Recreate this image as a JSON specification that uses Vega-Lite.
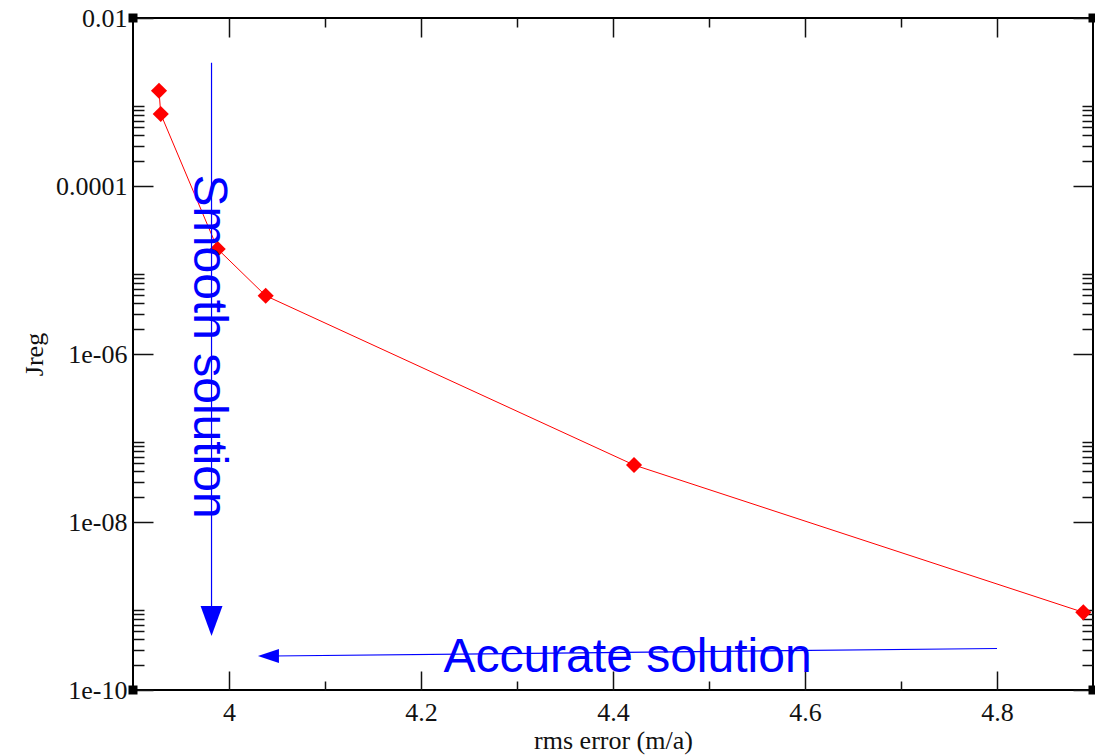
{
  "$schema": "https://vega.github.io/schema/vega-lite/v6.json",
  "width": 960,
  "height": 672,
  "autosize": {"type": "none"},
  "padding": {"left": 133, "top": 18, "right": 2, "bottom": 66},
  "background": "white",
  "config": {
    "view": {"stroke": "#000", "strokeWidth": 2},
    "axis": {
      "domain": false,
      "grid": false,
      "tickColor": "#111",
      "tickWidth": 1.5,
      "labelFont": "Liberation Serif",
      "labelFontSize": 26,
      "labelColor": "#111",
      "titleFont": "Liberation Serif",
      "titleFontSize": 26,
      "titleFontWeight": "normal",
      "titleColor": "#111",
      "labelOverlap": false
    }
  },
  "datasets": {
    "points": [
      {"rms": 3.9271, "jreg": 0.001363},
      {"rms": 3.9289, "jreg": 0.00072},
      {"rms": 3.9882, "jreg": 0.00001778},
      {"rms": 4.0382, "jreg": 0.00000494},
      {"rms": 4.4219, "jreg": 4.77e-8},
      {"rms": 4.8899, "jreg": 8.41e-10}
    ],
    "vline": [
      {"rms": 3.9818, "jreg": 0.00294},
      {"rms": 3.9818, "jreg": 8.0e-10}
    ],
    "hline": [
      {"rms": 4.8, "jreg": 3.12e-10},
      {"rms": 4.045, "jreg": 2.54e-10}
    ],
    "vhead": [{"rms": 3.9818, "jreg": 6.62e-10}],
    "hhead": [{"rms": 4.0411, "jreg": 2.54e-10}],
    "smooth": [{"label": "Smooth solution", "rms": 3.9635, "jreg": 1.227e-6}],
    "accurate": [{"label": "Accurate solution", "rms": 4.4151, "jreg": 1.637e-10}],
    "corners": [
      {"rms": 3.9, "jreg": 0.01},
      {"rms": 4.9, "jreg": 0.01},
      {"rms": 3.9, "jreg": 1e-10},
      {"rms": 4.9, "jreg": 1e-10}
    ]
  },
  "resolve": {"axis": {"x": "independent", "y": "independent"}},
  "layer": [
    {
      "data": {"name": "points"},
      "mark": {"type": "line", "color": "#ff0000", "strokeWidth": 1},
      "encoding": {
        "x": {
          "field": "rms", "type": "quantitative",
          "scale": {"domain": [3.9, 4.9], "nice": false, "zero": false},
          "axis": {"orient": "bottom", "values": [4, 4.2, 4.4, 4.6, 4.8], "format": "~g", "tickSize": -19, "labelPadding": 28.5, "title": "rms error (m/a)", "titlePadding": 2}
        },
        "y": {
          "field": "jreg", "type": "quantitative",
          "scale": {"type": "log", "domain": [1e-10, 0.01], "nice": false},
          "axis": {"orient": "left", "values": [0.01, 0.0001, 0.000001, 0.00000001, 0.0000000001], "labelExpr": "datum.value > 0.005 ? '0.01' : datum.value > 0.00005 ? '0.0001' : datum.value > 0.0000005 ? '1e-06' : datum.value > 0.000000005 ? '1e-08' : '1e-10'", "tickSize": -20, "labelPadding": 26, "title": "Jreg", "titlePadding": 8}
        }
      }
    },
    {
      "data": {"name": "points"},
      "mark": {"type": "point", "shape": "diamond", "filled": true, "color": "#ff0000", "size": 260, "opacity": 1},
      "encoding": {
        "x": {
          "field": "rms", "type": "quantitative",
          "scale": {"domain": [3.9, 4.9], "nice": false, "zero": false},
          "axis": {"orient": "bottom", "values": [4.1, 4.3, 4.5, 4.7], "labels": false, "tickSize": -9, "title": null}
        },
        "y": {
          "field": "jreg", "type": "quantitative",
          "scale": {"type": "log", "domain": [1e-10, 0.01], "nice": false},
          "axis": {"orient": "left", "values": [2e-4, 3e-4, 4e-4, 5e-4, 6e-4, 7e-4, 8e-4, 9e-4, 2e-6, 3e-6, 4e-6, 5e-6, 6e-6, 7e-6, 8e-6, 9e-6, 2e-8, 3e-8, 4e-8, 5e-8, 6e-8, 7e-8, 8e-8, 9e-8, 2e-10, 3e-10, 4e-10, 5e-10, 6e-10, 7e-10, 8e-10, 9e-10], "labels": false, "tickSize": -11, "title": null}
        }
      }
    },
    {
      "data": {"name": "vline"},
      "mark": {"type": "line", "color": "#0000ff", "strokeWidth": 1.2},
      "encoding": {
        "x": {
          "field": "rms", "type": "quantitative",
          "scale": {"domain": [3.9, 4.9], "nice": false, "zero": false},
          "axis": {"orient": "top", "values": [4, 4.2, 4.4, 4.6, 4.8], "labels": false, "tickSize": -19, "title": null}
        },
        "y": {
          "field": "jreg", "type": "quantitative",
          "scale": {"type": "log", "domain": [1e-10, 0.01], "nice": false},
          "axis": {"orient": "right", "values": [0.01, 0.0001, 0.000001, 0.00000001, 0.0000000001], "labels": false, "tickSize": -20, "title": null}
        }
      }
    },
    {
      "data": {"name": "hline"},
      "mark": {"type": "line", "color": "#0000ff", "strokeWidth": 1.2},
      "encoding": {
        "x": {
          "field": "rms", "type": "quantitative",
          "scale": {"domain": [3.9, 4.9], "nice": false, "zero": false},
          "axis": {"orient": "top", "values": [4.1, 4.3, 4.5, 4.7], "labels": false, "tickSize": -9, "title": null}
        },
        "y": {
          "field": "jreg", "type": "quantitative",
          "scale": {"type": "log", "domain": [1e-10, 0.01], "nice": false},
          "axis": {"orient": "right", "values": [2e-4, 3e-4, 4e-4, 5e-4, 6e-4, 7e-4, 8e-4, 9e-4, 2e-6, 3e-6, 4e-6, 5e-6, 6e-6, 7e-6, 8e-6, 9e-6, 2e-8, 3e-8, 4e-8, 5e-8, 6e-8, 7e-8, 8e-8, 9e-8, 2e-10, 3e-10, 4e-10, 5e-10, 6e-10, 7e-10, 8e-10, 9e-10], "labels": false, "tickSize": -11, "title": null}
        }
      }
    },
    {
      "data": {"name": "vhead"},
      "mark": {"type": "point", "shape": "M-0.73,-1L0.73,-1L0,1Z", "filled": true, "color": "#0000ff", "size": 900, "opacity": 1},
      "encoding": {
        "x": {"field": "rms", "type": "quantitative", "scale": {"domain": [3.9, 4.9], "nice": false, "zero": false}, "axis": null},
        "y": {"field": "jreg", "type": "quantitative", "scale": {"type": "log", "domain": [1e-10, 0.01], "nice": false}, "axis": null}
      }
    },
    {
      "data": {"name": "hhead"},
      "mark": {"type": "point", "shape": "M-1,0L1,-0.667L1,0.667Z", "filled": true, "color": "#0000ff", "size": 441, "opacity": 1},
      "encoding": {
        "x": {"field": "rms", "type": "quantitative", "scale": {"domain": [3.9, 4.9], "nice": false, "zero": false}, "axis": null},
        "y": {"field": "jreg", "type": "quantitative", "scale": {"type": "log", "domain": [1e-10, 0.01], "nice": false}, "axis": null}
      }
    },
    {
      "data": {"name": "smooth"},
      "mark": {"type": "text", "font": "Liberation Sans", "fontSize": 48, "color": "#0000ff", "angle": 90, "align": "center", "baseline": "alphabetic"},
      "encoding": {
        "x": {"field": "rms", "type": "quantitative", "scale": {"domain": [3.9, 4.9], "nice": false, "zero": false}, "axis": null},
        "y": {"field": "jreg", "type": "quantitative", "scale": {"type": "log", "domain": [1e-10, 0.01], "nice": false}, "axis": null},
        "text": {"field": "label"}
      }
    },
    {
      "data": {"name": "accurate"},
      "mark": {"type": "text", "font": "Liberation Sans", "fontSize": 48, "color": "#0000ff", "align": "center", "baseline": "alphabetic"},
      "encoding": {
        "x": {"field": "rms", "type": "quantitative", "scale": {"domain": [3.9, 4.9], "nice": false, "zero": false}, "axis": null},
        "y": {"field": "jreg", "type": "quantitative", "scale": {"type": "log", "domain": [1e-10, 0.01], "nice": false}, "axis": null},
        "text": {"field": "label"}
      }
    },
    {
      "data": {"name": "corners"},
      "mark": {"type": "point", "shape": "square", "filled": true, "color": "#000", "size": 81, "opacity": 1},
      "encoding": {
        "x": {"field": "rms", "type": "quantitative", "scale": {"domain": [3.9, 4.9], "nice": false, "zero": false}, "axis": null},
        "y": {"field": "jreg", "type": "quantitative", "scale": {"type": "log", "domain": [1e-10, 0.01], "nice": false}, "axis": null}
      }
    }
  ]
}
